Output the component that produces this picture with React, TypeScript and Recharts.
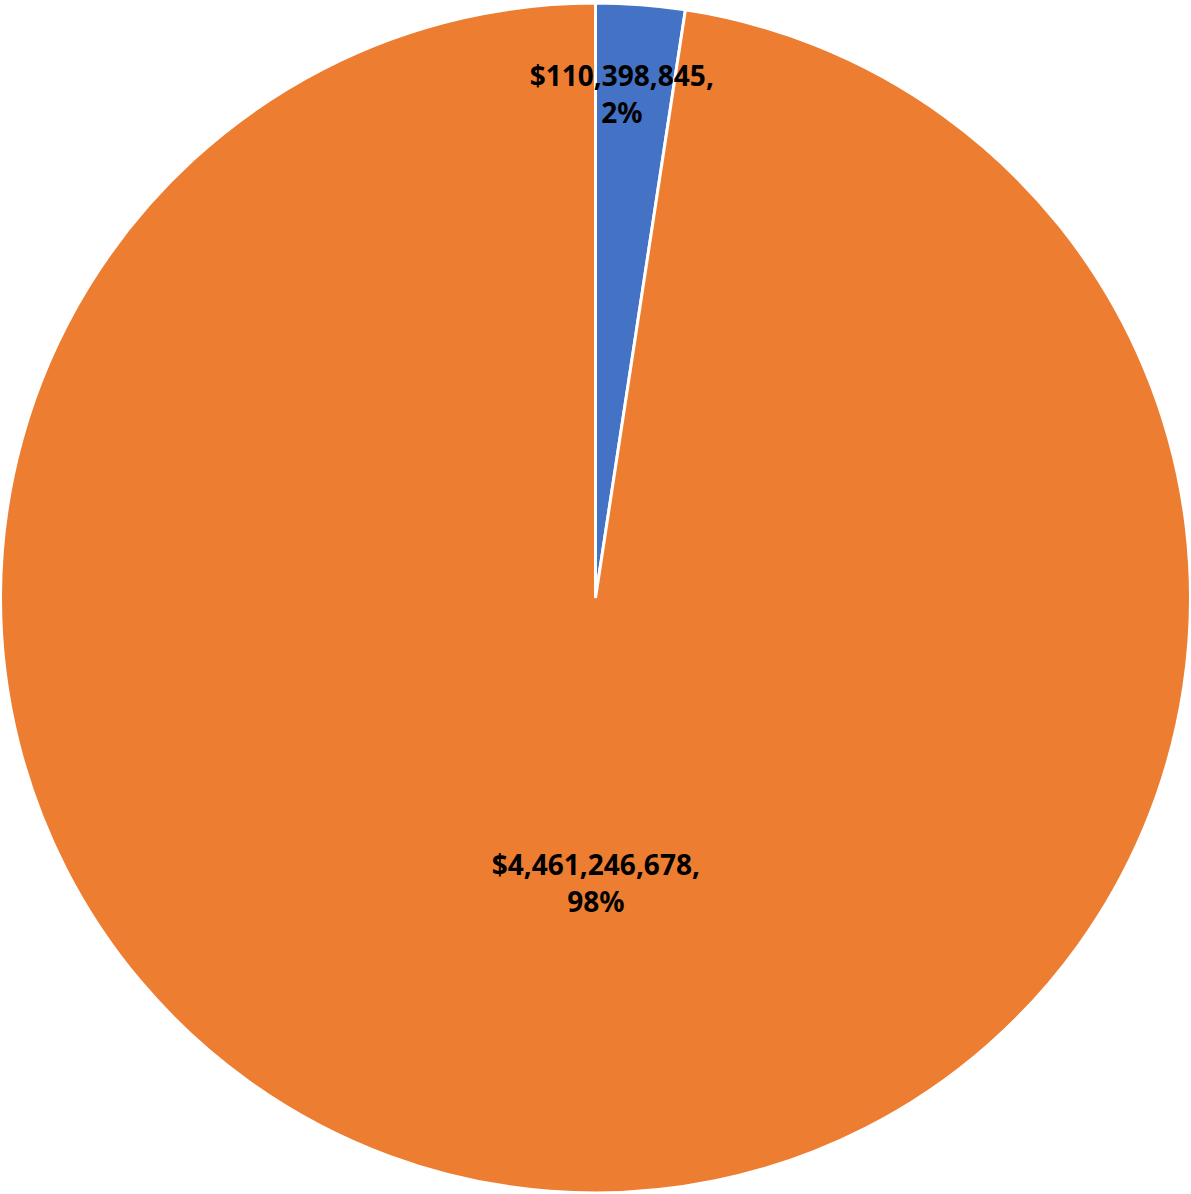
import { PieChart, Pie, Cell } from 'recharts';

const names = ['Segment A', 'Segment B'];
const values = [110398845, 4461246678];
const colors = ['#4472C4', '#ED7D31'];
// label distance from centre, as a share of the radius, plus a small sideways nudge
const labelRadius = [0.85, 0.48];
const labelDx = [-12, 22];

const total = values.reduce((a, b) => a + b, 0);
const data = names.map((name, i) => ({ name, value: values[i] }));

const fmt = (v: number) => '$' + v.toLocaleString('en-US') + ',';

export default function App() {
  const renderLabel = ({ cx, cy, midAngle, outerRadius, index, value }: any) => {
    const RADIAN = Math.PI / 180;
    const r = outerRadius * labelRadius[index];
    const x = cx + r * Math.cos(-midAngle * RADIAN) + labelDx[index];
    const y = cy + r * Math.sin(-midAngle * RADIAN);
    const pct = Math.round((value / total) * 100) + '%';
    return (
      <text
        x={x}
        y={y}
        textAnchor="middle"
        fontFamily="'Noto Sans', sans-serif"
        fontWeight={700}
        fontSize={28}
        fill="#000000"
      >
        <tspan x={x} dy={-8}>{fmt(value)}</tspan>
        <tspan x={x} dy={37}>{pct}</tspan>
      </text>
    );
  };

  return (
    <div style={{ position: 'absolute', left: 0, top: 0, width: 1191, height: 1194, background: '#fff' }}>
      <PieChart width={1191} height={1194} margin={{ top: 0, right: 0, bottom: 0, left: 0 }}>
        <Pie
          data={data}
          dataKey="value"
          cx={595.5}
          cy={598}
          outerRadius={595}
          startAngle={90}
          endAngle={-270}
          stroke="#ffffff"
          strokeWidth={3}
          label={renderLabel}
          labelLine={false}
          isAnimationActive={false}
        >
          {data.map((d, i) => (
            <Cell key={d.name} fill={colors[i]} />
          ))}
        </Pie>
      </PieChart>
    </div>
  );
}
